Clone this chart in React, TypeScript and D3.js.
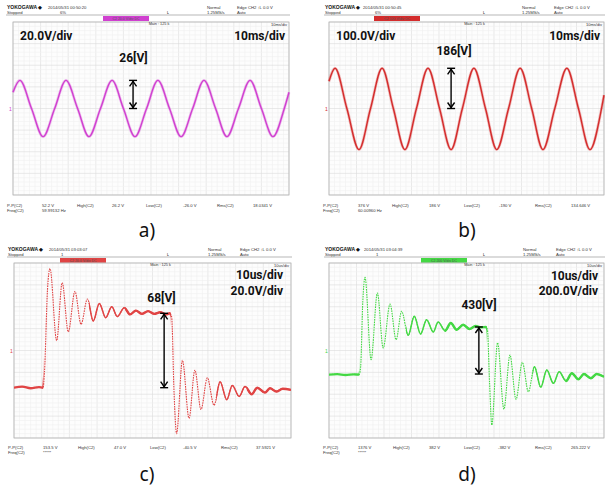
import React from 'react'
import * as d3 from 'd3'

// a) 20 V/div, 10 ms/div  (time in ms, volts)
const aTime = [0, 2.5, 6.7, 10.9, 15.1, 19.2, 23.4, 27.5, 31.7, 35.9, 40.0, 44.2, 48.4, 52.5, 56.7, 60.9, 65.1, 69.2, 73.4, 77.5, 81.7, 85.9, 90.0, 94.2, 98.3, 100]
const aVolt = [15, 26, 0, -26, 0, 26, 0, -26, 0, 26, 0, -26, 0, 26, 0, -26, 0, 26, 0, -26, 0, 26, 0, -26, 0, 15]

// b) 100 V/div, 10 ms/div
const bTime = [0, 2.2, 6.5, 10.9, 15.1, 19.3, 23.4, 27.6, 31.8, 36.0, 40.2, 44.4, 48.5, 52.7, 56.9, 61.0, 65.3, 69.5, 73.7, 77.8, 82.1, 86.5, 90.7, 94.9, 99.1, 100]
const bVolt = [126, 186, 0, -190, 0, 186, 0, -190, 0, 186, 0, -190, 0, 186, 0, -190, 0, 186, 0, -190, 0, 186, 0, -190, 0, 62]

// c) 20 V/div, 10 us/div  (time in us)
const cTime = [0, 3, 6, 9, 10.5, 11.0, 12.1, 13.0, 15.4, 17.4, 19.6, 22.0, 24.2, 26.5, 28.6, 30.8, 33.1, 35.3, 37.3, 39.8, 41.9, 44.0, 46.2, 48.4, 50.6, 52.8, 55.0, 56.2, 56.9, 57.8, 58.7, 60.8, 63.2, 65.3, 67.5, 69.8, 72.2, 74.4, 76.8, 78.8, 81.3, 83.4, 85.8, 87.8, 90.6, 92.4, 94.7, 97.0, 100]
const cVolt = [-34, -33, -34.5, -33.5, -34, -20, 56, 75, 9, 62, 17, 54, 24, 47, 27, 43, 30, 40, 31, 39, 33, 36.5, 33.5, 36, 33.5, 35, 33, 34, 31, -40, -76, -9, -62, -18, -54, -25, -50, -28.5, -45, -32, -42, -33, -40, -34, -38.5, -34.5, -37.5, -35, -36]

// d) 200 V/div, 10 us/div
const dTime = [0, 3, 6, 9, 11.0, 11.5, 12.3, 13.1, 15.3, 17.6, 19.7, 22.2, 24.4, 26.4, 28.8, 31.0, 33.3, 35.5, 37.9, 39.7, 42.2, 44.3, 46.4, 48.8, 51.1, 53.3, 55.2, 57.1, 57.6, 58.4, 59.2, 61.3, 63.6, 65.8, 68.0, 70.3, 72.5, 74.7, 77.0, 79.2, 81.6, 83.7, 86.2, 88.3, 90.7, 92.7, 95.2, 97.3, 100]
const dVolt = [-221, -216, -224, -218, -221, -150, 450, 669, -84, 526, 23, 425, 99, 358, 139, 313, 151, 282, 169, 261, 181, 251, 190, 236, 196, 224, 212, 215, 190, -300, -681, 71, -537, -41, -446, -108, -377, -148, -336, -178, -300, -194, -279, -208, -263, -215, -254, -215, -240]

const footLabels = ['P-P(C2)', 'High(C2)', 'Low(C2)', 'Rms(C2)']
const aFoot = ['52.2 V', '59.99132 Hz', '26.2 V', '-26.0 V', '18.0341 V']
const bFoot = ['376 V', '60.00960 Hz', '186 V', '-190 V', '134.646 V']
const cFoot = ['153.5 V', '*****', '47.0 V', '-40.5 V', '37.5921 V']
const dFoot = ['1376 V', '*****', '382 V', '-382 V', '265.222 V']

const big = "Roboto, 'Noto Sans', sans-serif"
const tiny = "'Liberation Sans', Arial, sans-serif"

type Label = { text: string; x: number; y: number; anchor: string }

type ScopeProps = {
  id: string
  ox: number
  oy: number
  plot: [number, number, number, number]
  hy: number
  tSpan: number
  vDiv: number
  time: number[]
  volt: number[]
  color: string
  ringing?: boolean
  thick?: [number, number][]
  medium?: [number, number][]
  date: string
  pct: string
  xs: { yoko: number; date: number; mark: number; normal: number; edge: number; main: number }
  bar: [number, number]
  barText: string
  timeDiv: string
  labels: Label[]
  arrow: { t: number; v0: number; v1: number; text: string; lx: number; ly: number }
  foot: string[]
  footX: number[]
  footY: number
  caption: string
  capX: number
  capY: number
}

function Scope(p: ScopeProps) {
  const [l, t, r, b] = p.plot
  const x = d3.scaleLinear().domain([0, p.tSpan]).range([l, r])
  const y = d3.scaleLinear().domain([4 * p.vDiv, -4 * p.vDiv]).range([t, b])
  const pts = p.time.map((tt, i) => [tt, p.volt[i]] as [number, number])
  const line = d3.line<[number, number]>().x(d => x(d[0])).y(d => y(d[1])).curve(d3.curveMonotoneX)
  const path = line(pts) || ''
  const minorX = d3.range(0, 51).map(i => x((i * p.tSpan) / 50))
  const minorY = d3.range(0, 41).map(i => y(4 * p.vDiv - (i * p.vDiv) / 5))
  const ax = x(p.arrow.t)
  const a0 = y(p.arrow.v0)
  const a1 = y(p.arrow.v1)
  const hy = p.hy
  return (
    <g transform={`translate(${p.ox},${p.oy})`}>
      {/* header */}
      <text x={p.xs.yoko} y={hy} fontFamily={tiny} fontSize={5} fontWeight="bold" fill="#111">YOKOGAWA ◆</text>
      <text x={p.xs.yoko} y={hy + 4.5} fontFamily={tiny} fontSize={4.2} fill="#333">Stopped</text>
      <text x={p.xs.date} y={hy} fontFamily={tiny} fontSize={4.2} fill="#333">{p.date}</text>
      <text x={p.xs.date + 12} y={hy + 4.5} fontFamily={tiny} fontSize={4.2} fill="#333">{p.pct}</text>
      <text x={p.xs.mark} y={hy + 4.5} fontFamily={tiny} fontSize={4.5} fill="#333">ʟ</text>
      <text x={p.xs.normal} y={hy} fontFamily={tiny} fontSize={4.2} fill="#333">Normal</text>
      <text x={p.xs.normal} y={hy + 4.5} fontFamily={tiny} fontSize={4.2} fill="#333">1.25MS/s</text>
      <text x={p.xs.edge} y={hy} fontFamily={tiny} fontSize={4.2} fill="#333">Edge CH2 ↑L 0.0 V</text>
      <text x={p.xs.edge} y={hy + 4.5} fontFamily={tiny} fontSize={4.2} fill="#333">Auto</text>
      <line x1={p.xs.yoko - 1} x2={r + 1} y1={hy + 6} y2={hy + 6} stroke="#888" strokeWidth={0.6} />
      <rect x={p.bar[0]} y={hy + 7} width={p.bar[1] - p.bar[0]} height={5} fill={p.color} />
      <text x={(p.bar[0] + p.bar[1]) / 2} y={hy + 10.8} textAnchor="middle" fontFamily={tiny} fontSize={3.5} fill="#555">{p.barText}</text>

      {/* grid */}
      <rect x={l} y={t} width={r - l} height={b - t} fill="#fdfdfd" />
      {minorX.map((v, i) => (
        <line key={'mx' + i} x1={v} x2={v} y1={t} y2={b} stroke={i % 5 === 0 ? '#dcdcdc' : '#f0f0f0'} strokeWidth={0.6} />
      ))}
      {minorY.map((v, i) => (
        <line key={'my' + i} x1={l} x2={r} y1={v} y2={v} stroke={i % 5 === 0 ? '#dcdcdc' : '#f0f0f0'} strokeWidth={0.6} />
      ))}
      <rect x={l} y={t} width={r - l} height={b - t} fill="none" stroke="#b5b5b5" strokeWidth={0.8} />
      <text x={(l + r) / 2 + 8} y={t + 3} textAnchor="middle" fontFamily={tiny} fontSize={3.8} fill="#333">Main : 125 k</text>
      <text x={r - 2} y={t + 3.5} textAnchor="end" fontFamily={tiny} fontSize={4} fill="#333">{p.timeDiv}</text>
      <text x={l - 4} y={y(0) + 2} fontFamily={tiny} fontSize={5} fill={p.color}>1</text>

      {/* trace */}
      <defs>
        {(p.thick || []).concat(p.medium || []).map((rg, i) => (
          <clipPath key={i} id={`${p.id}-c${i}`}>
            <rect x={x(rg[0])} y={t} width={x(rg[1]) - x(rg[0])} height={b - t} />
          </clipPath>
        ))}
      </defs>
      {p.ringing ? (
        <g>
          <path d={path} fill="none" stroke={p.color} strokeWidth={1.1} strokeDasharray="1.6 0.9" />
          {(p.medium || []).map((rg, i) => (
            <path key={'m' + i} d={path} fill="none" stroke={p.color} strokeWidth={1.5}
              clipPath={`url(#${p.id}-c${(p.thick || []).length + i})`} />
          ))}
          {(p.thick || []).map((rg, i) => (
            <path key={'t' + i} d={path} fill="none" stroke={p.color} strokeWidth={2.4}
              clipPath={`url(#${p.id}-c${i})`} />
          ))}
        </g>
      ) : (
        <g>
          <path d={path} fill="none" stroke={p.color} strokeOpacity={0.3} strokeWidth={2.8} />
          <path d={path} fill="none" stroke={p.color} strokeWidth={1.4} />
        </g>
      )}

      {/* annotations */}
      {p.labels.map((lb, i) => (
        <text key={i} x={lb.x} y={lb.y} textAnchor={lb.anchor} fontFamily={big} fontWeight="bold" fontSize={12} fill="#111">{lb.text}</text>
      ))}
      <text x={p.arrow.lx} y={p.arrow.ly} textAnchor="middle" fontFamily={big} fontWeight="bold" fontSize={12} fill="#111">{p.arrow.text}</text>
      <g stroke="#000" strokeWidth={1.4} fill="none">
        <line x1={ax} x2={ax} y1={a1} y2={a0} />
        <line x1={ax - 4} x2={ax + 4} y1={a1} y2={a1} />
        <line x1={ax - 4} x2={ax + 4} y1={a0} y2={a0} />
        <polyline points={`${ax - 3.5},${a1 + 6} ${ax},${a1 + 1} ${ax + 3.5},${a1 + 6}`} />
        <polyline points={`${ax - 3.5},${a0 - 6} ${ax},${a0 - 1} ${ax + 3.5},${a0 - 6}`} />
      </g>

      {/* footer */}
      {footLabels.map((fl, i) => (
        <text key={'fl' + i} x={p.footX[i * 2]} y={p.footY} fontFamily={tiny} fontSize={4.2} fill="#333">{fl}</text>
      ))}
      <text x={p.footX[0]} y={p.footY + 4.5} fontFamily={tiny} fontSize={4.2} fill="#333">Freq(C2)</text>
      <text x={p.footX[1]} y={p.footY} fontFamily={tiny} fontSize={4.2} fill="#333">{p.foot[0]}</text>
      <text x={p.footX[1]} y={p.footY + 4.5} fontFamily={tiny} fontSize={4.2} fill="#333">{p.foot[1]}</text>
      <text x={p.footX[3]} y={p.footY} fontFamily={tiny} fontSize={4.2} fill="#333">{p.foot[2]}</text>
      <text x={p.footX[5]} y={p.footY} fontFamily={tiny} fontSize={4.2} fill="#333">{p.foot[3]}</text>
      <text x={p.footX[7]} y={p.footY} fontFamily={tiny} fontSize={4.2} fill="#333">{p.foot[4]}</text>

      <text x={p.capX} y={p.capY} textAnchor="middle" fontFamily="'Noto Sans', sans-serif" fontSize={19} fill="#111">{p.caption}</text>
    </g>
  )
}

export default function App() {
  return (
    <svg width={605} height={486} style={{ position: 'absolute', left: 0, top: 0, background: '#fff' }}>
      <Scope id="a" ox={0} oy={0} plot={[13, 22, 289, 195]} hy={9} tSpan={100} vDiv={20}
        time={aTime} volt={aVolt} color="#d040d0"
        date="2014/05/31 00:50:20" pct="6%"
        xs={{ yoko: 7, date: 48, mark: 167, normal: 207, edge: 237, main: 140 }}
        bar={[103, 149]} barText="C2 20.0 V/div DC" timeDiv="10ms/div"
        labels={[{ text: '20.0V/div', x: 20, y: 39.5, anchor: 'start' }, { text: '10ms/div', x: 285, y: 39.5, anchor: 'end' }]}
        arrow={{ t: 43.5, v0: 0, v1: 26, text: '26[V]', lx: 133.5, ly: 61.5 }}
        foot={aFoot} footX={[7, 42, 77, 112, 146, 183, 217, 253]} footY={207}
        caption="a)" capX={147} capY={237} />
      <Scope id="b" ox={305} oy={0} plot={[24, 22, 299, 195]} hy={9} tSpan={100} vDiv={100}
        time={bTime} volt={bVolt} color="#d42c2c"
        date="2014/05/31 00:50:45" pct="6%"
        xs={{ yoko: 20, date: 58, mark: 178, normal: 217, edge: 249, main: 150 }}
        bar={[69, 115]} barText="C2 100 V/div DC" timeDiv="10ms/div"
        labels={[{ text: '100.0V/div', x: 31, y: 39.5, anchor: 'start' }, { text: '10ms/div', x: 295, y: 39.5, anchor: 'end' }]}
        arrow={{ t: 44.4, v0: 0, v1: 186, text: '186[V]', lx: 149, ly: 55 }}
        foot={bFoot} footX={[18, 53, 87, 124, 159, 194, 230, 266]} footY={207}
        caption="b)" capX={162} capY={237} />
      <Scope id="c" ox={0} oy={240} plot={[14, 23, 291, 198]} hy={11} tSpan={100} vDiv={20}
        time={cTime} volt={cVolt} color="#e04444" ringing
        thick={[[0, 10.6], [40, 56.6], [84, 100]]} medium={[[27, 56.6], [73, 100]]}
        date="2014/05/31 03:03:07" pct="1"
        xs={{ yoko: 8, date: 49, mark: 167, normal: 208, edge: 240, main: 142 }}
        bar={[60, 106]} barText="C2 20.0 V/div DC" timeDiv="10us/div"
        labels={[{ text: '10us/div', x: 283, y: 39, anchor: 'end' }, { text: '20.0V/div', x: 283, y: 54.5, anchor: 'end' }]}
        arrow={{ t: 54.2, v0: -34, v1: 34, text: '68[V]', lx: 161.5, ly: 62 }}
        foot={cFoot} footX={[8, 43, 78, 114, 150, 183, 221, 256]} footY={209}
        caption="c)" capX={147} capY={241} />
      <Scope id="d" ox={305} oy={240} plot={[24, 23, 299, 198]} hy={11} tSpan={100} vDiv={200}
        time={dTime} volt={dVolt} color="#44d844" ringing
        thick={[[0, 11.0], [42, 57.4], [86, 100]]} medium={[[28, 57.4], [74, 100]]}
        date="2014/05/31 03:04:39" pct="1"
        xs={{ yoko: 20, date: 59, mark: 178, normal: 218, edge: 251, main: 152 }}
        bar={[116, 162]} barText="C2 200 V/div DC" timeDiv="10us/div"
        labels={[{ text: '10us/div', x: 293, y: 40, anchor: 'end' }, { text: '200.0V/div', x: 293, y: 55, anchor: 'end' }]}
        arrow={{ t: 54.5, v0: -215, v1: 215, text: '430[V]', lx: 174, ly: 69 }}
        foot={dFoot} footX={[18, 53, 88, 124, 159, 193, 230, 266]} footY={209}
        caption="d)" capX={162} capY={241} />
    </svg>
  )
}
